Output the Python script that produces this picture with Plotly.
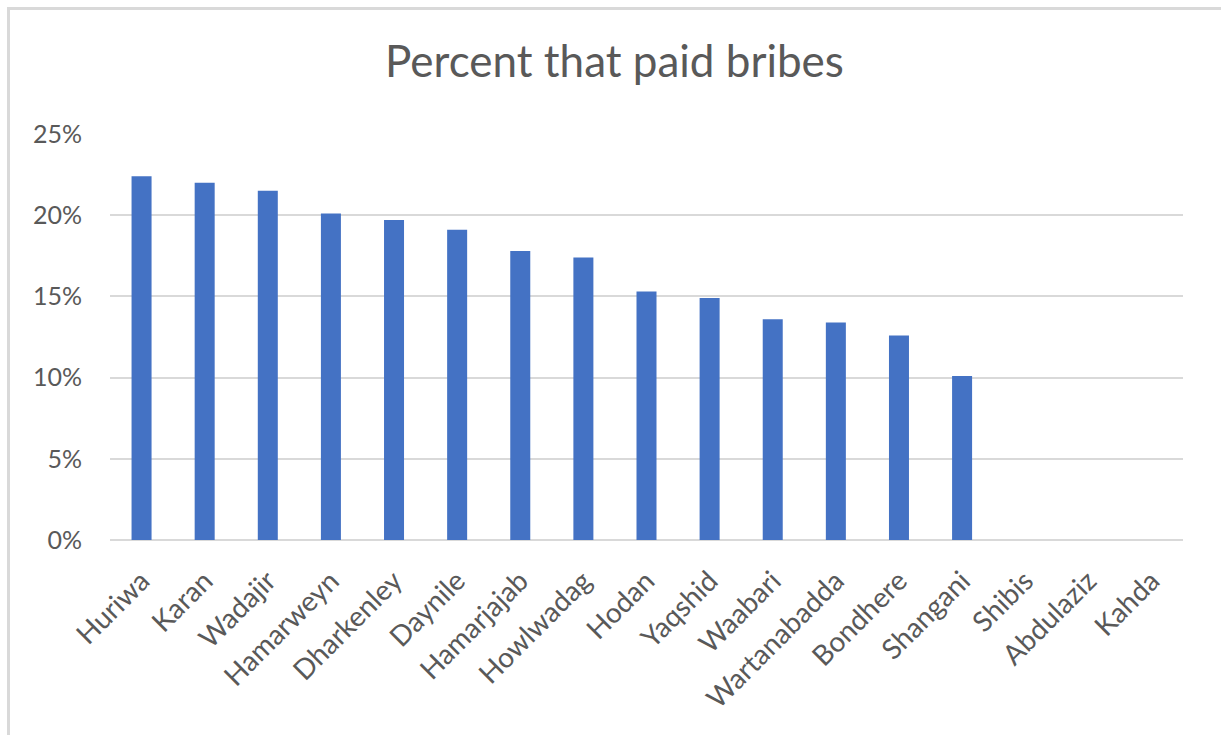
import plotly.graph_objects as go

# Districts and the share of respondents who reported paying a bribe (%)
districts = [
    "Huriwa", "Karan", "Wadajir", "Hamarweyn", "Dharkenley", "Daynile",
    "Hamarjajab", "Howlwadag", "Hodan", "Yaqshid", "Waabari",
    "Wartanabadda", "Bondhere", "Shangani", "Shibis", "Abdulaziz", "Kahda",
]
percent_paid = [
    22.4, 22.0, 21.5, 20.1, 19.7, 19.1,
    17.8, 17.4, 15.3, 14.9, 13.6,
    13.4, 12.6, 10.1, 0.0, 0.0, 0.0,
]
y_ticks = [0, 5, 10, 15, 20, 25]
y_tick_labels = [f"{v}%" for v in y_ticks]

W, H = 1221, 735
L, R, T, B = 110, 38, 134, 195
plot_w = W - L - R
plot_h = H - T - B

BAR = "#4472C4"
GRID = "#D9D9D9"
TEXT = "#595959"
FONT = "Lato"

fig = go.Figure(
    go.Bar(
        x=districts,
        y=percent_paid,
        marker=dict(color=BAR, line=dict(width=0)),
        hovertemplate="%{x}: %{y:.1f}%<extra></extra>",
    )
)


def px_to_paper_x(px):
    return (px - L) / plot_w


def px_to_paper_y(py):
    return (H - B - py) / plot_h


# Light frame around the chart area
fig.add_shape(
    type="rect",
    xref="paper", yref="paper",
    x0=px_to_paper_x(8.5), x1=px_to_paper_x(W + 20),
    y0=px_to_paper_y(H + 20), y1=px_to_paper_y(8.5),
    line=dict(color=GRID, width=3),
    fillcolor="rgba(0,0,0,0)",
    layer="below",
)

fig.update_layout(
    width=W,
    height=H,
    margin=dict(l=L, r=R, t=T, b=B, pad=0),
    paper_bgcolor="white",
    plot_bgcolor="white",
    bargap=0.683,
    showlegend=False,
    font=dict(family=FONT, color=TEXT),
    title=dict(
        text="Percent that paid bribes",
        font=dict(family=FONT, size=44, color=TEXT),
        x=614.5 / W,
        xanchor="center",
        xref="container",
        y=1 - 62 / H,
        yref="container",
        yanchor="middle",
    ),
    xaxis=dict(
        tickangle=-45,
        tickfont=dict(family=FONT, size=28, color=TEXT),
        showgrid=False,
        showline=False,
        ticks="",
        ticklabelstandoff=18,
        fixedrange=True,
    ),
    yaxis=dict(
        range=[0, 25],
        tickmode="array",
        tickvals=y_ticks,
        ticktext=y_tick_labels,
        tickfont=dict(family=FONT, size=25, color=TEXT),
        showgrid=True,
        gridcolor=GRID,
        gridwidth=2,
        zeroline=True,
        zerolinecolor=GRID,
        zerolinewidth=2,
        showline=False,
        ticks="",
        ticklabelstandoff=27,
        fixedrange=True,
    ),
)

fig.write_html("out.html", config={"displayModeBar": False})
